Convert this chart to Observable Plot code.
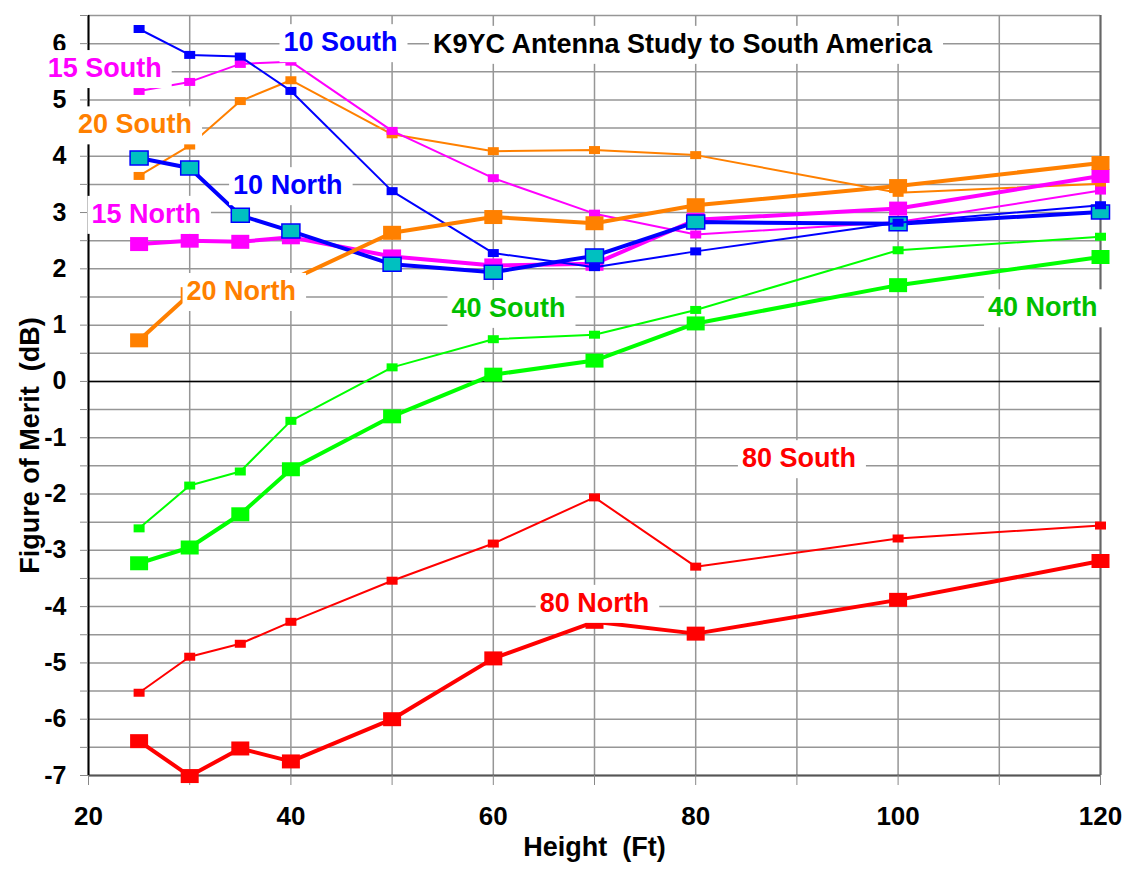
<!DOCTYPE html>
<html>
<head>
<meta charset="utf-8">
<script src="https://cdn.jsdelivr.net/npm/d3@7"></script>
<script src="https://cdn.jsdelivr.net/npm/@observablehq/plot@0.6"></script>
<style>
  html, body { margin: 0; padding: 0; background: #fff; }
  #chart svg { white-space: pre; }
</style>
</head>
<body>
<div id="chart"></div>
<script>
// ---- data ----
const heights = [25, 30, 35, 40, 50, 60, 70, 80, 100, 120];

const s10South = [6.26, 5.80, 5.77, 5.16, 3.38, 2.28, 2.03, 2.31, 2.82, 3.13];
const s10North = [3.97, 3.79, 2.95, 2.67, 2.08, 1.94, 2.23, 2.83, 2.80, 3.01];
const s15South = [5.16, 5.32, 5.64, 5.68, 4.45, 3.61, 2.98, 2.61, 2.83, 3.39];
const s15North = [2.44, 2.50, 2.48, 2.56, 2.22, 2.06, 2.09, 2.87, 3.07, 3.65];
const s20South = [3.65, 4.19, 4.98, 5.35, 4.39, 4.09, 4.11, 4.02, 3.35, 3.51];
const s20North = [0.73, 1.55, 1.72, 1.80, 2.64, 2.92, 2.81, 3.13, 3.47, 3.88];
const s40South = [-2.61, -1.85, -1.60, -0.70, 0.25, 0.75, 0.83, 1.27, 2.33, 2.57];
const s40North = [-3.23, -2.95, -2.36, -1.56, -0.62, 0.12, 0.37, 1.03, 1.71, 2.21];
const s80South = [-5.53, -4.89, -4.66, -4.27, -3.54, -2.88, -2.06, -3.29, -2.79, -2.56];
const s80North = [-6.39, -7.01, -6.52, -6.75, -6.00, -4.92, -4.27, -4.48, -3.88, -3.19];

const xTickLabels = [20, 40, 60, 80, 100, 120];
const xGridLines = [20, 30, 40, 50, 60, 70, 80, 90, 100, 110, 120];
const yTickLabels = [-7, -6, -5, -4, -3, -2, -1, 0, 1, 2, 3, 4, 5, 6];
const yGridLines = [-7, -6.5, -6, -5.5, -5, -4.5, -4, -3.5, -3, -2.5, -2, -1.5, -1, -0.5,
                    0, 0.5, 1, 1.5, 2, 2.5, 3, 3.5, 4, 4.5, 5, 5.5, 6, 6.5];

const labelText = ["10 South", "K9YC Antenna Study to South America", "15 South", "20 South",
                   "10 North", "15 North", "20 North", "40 South", "40 North", "80 South", "80 North"];
const labelX = [44.9, 78.7, 21.6, 24.6, 39.7, 25.7, 35.1, 61.5, 114.3, 90.2, 70.0];
const labelY = [6.02, 5.99, 5.56, 4.56, 3.48, 2.97, 1.60, 1.30, 1.31, -1.37, -3.94];
const labelColor = ["#0000ff", "#000000", "#ff00ff", "#ff8000", "#0000ff", "#ff00ff",
                    "#ff8000", "#00c000", "#00c000", "#ff0000", "#ff0000"];

// ---- series styling (drawing order) ----
const series = [
  {name: "80 North", values: s80North, color: "#ff0000", thick: true},
  {name: "80 South", values: s80South, color: "#ff0000", thick: false},
  {name: "40 North", values: s40North, color: "#00ff00", thick: true},
  {name: "40 South", values: s40South, color: "#00ff00", thick: false},
  {name: "20 South", values: s20South, color: "#ff8000", thick: false},
  {name: "15 South", values: s15South, color: "#ff00ff", thick: false},
  {name: "15 North", values: s15North, color: "#ff00ff", thick: true},
  {name: "10 North", values: s10North, color: "#0000ff", thick: true, markerFill: "#00c0c0"},
  {name: "10 South", values: s10South, color: "#0000ff", thick: false},
  {name: "20 North", values: s20North, color: "#ff8000", thick: true}
];

const rectSymbol = (w, h) => ({draw(ctx) { ctx.rect(-w / 2, -h / 2, w, h); }});
const bigSym = rectSymbol(18, 14);
const smallSym = rectSymbol(11, 8);

const FONT = "'Liberation Sans', Arial, Helvetica, sans-serif";

const marks = [];
// grid
marks.push(Plot.ruleY(yGridLines, {stroke: "#969696", strokeWidth: 1.5}));
marks.push(Plot.ruleX(xGridLines, {stroke: "#969696", strokeWidth: 1.5}));
// frame
marks.push(Plot.ruleY([0], {stroke: "#000", strokeWidth: 1.5}));
marks.push(Plot.ruleY([-7], {stroke: "#555", strokeWidth: 2}));
marks.push(Plot.ruleX([120], {stroke: "#666", strokeWidth: 2}));
marks.push(Plot.ruleX([20], {stroke: "#000", strokeWidth: 2}));

// axes
marks.push(Plot.axisY({
  ticks: yGridLines, tickSize: 8, tickPadding: 14, stroke: "#888",
  tickFormat: d => yTickLabels.includes(d) ? String(d) : "",
  fontSize: 25, fontWeight: "bold", fill: "#000", label: null
}));
marks.push(Plot.axisX({
  ticks: xGridLines, tickSize: 10, tickPadding: 21, stroke: "#888",
  tickFormat: d => xTickLabels.includes(d) ? String(d) : "",
  fontSize: 26, fontWeight: "bold", fill: "#000", label: null
}));

// series
for (const s of series) {
  const rows = heights.map((h, i) => ({h, v: s.values[i]}));
  marks.push(Plot.line(rows, {
    x: "h", y: "v", stroke: s.color, strokeWidth: s.thick ? 4 : 2,
    curve: "linear", strokeLinejoin: "round"
  }));
  marks.push(Plot.dot(rows, {
    x: "h", y: "v", symbol: s.thick ? bigSym : smallSym, r: 5,
    fill: s.markerFill || s.color,
    stroke: s.markerFill ? s.color : "none",
    strokeWidth: s.markerFill ? 1.5 : 0
  }));
}

// in-chart labels
const labels = labelText.map((t, i) => ({t, x: labelX[i], y: labelY[i], c: labelColor[i]}));
marks.push(Plot.text(labels, {
  x: "x", y: "y", text: "t", fill: "c", textAnchor: "middle", lineAnchor: "middle",
  fontSize: 27, fontWeight: "bold"
}));

// axis titles
marks.push(Plot.text(["Height  (Ft)"], {
  frameAnchor: "bottom", dy: 72, text: d => d, fontSize: 27, fontWeight: "bold",
  fill: "#000", lineAnchor: "middle", textAnchor: "middle"
}));
marks.push(Plot.text(["Figure of Merit  (dB)"], {
  frameAnchor: "left", dx: -58, dy: 50, rotate: -90, text: d => d, fontSize: 27,
  fontWeight: "bold", fill: "#000", lineAnchor: "middle", textAnchor: "middle"
}));

const chart = Plot.plot({
  width: 1127,
  height: 877,
  marginLeft: 88,
  marginRight: 27,
  marginTop: 15,
  marginBottom: 102,
  x: {domain: [20, 120]},
  y: {domain: [-7, 6.5]},
  color: {type: "identity"},
  style: {fontFamily: FONT, background: "#fff", overflow: "visible"},
  marks
});

document.getElementById("chart").appendChild(chart);

// white boxes behind in-chart labels
const labelSet = new Set(labelText);
for (const t of chart.querySelectorAll("text")) {
  if (!labelSet.has(t.textContent)) continue;
  const b = t.getBBox();
  const r = document.createElementNS("http://www.w3.org/2000/svg", "rect");
  r.setAttribute("x", b.x - 4);
  r.setAttribute("y", b.y - 3);
  r.setAttribute("width", b.width + 14);
  r.setAttribute("height", b.height + 8);
  r.setAttribute("fill", "#fff");
  const tr = t.getAttribute("transform");
  if (tr) r.setAttribute("transform", tr);
  t.parentNode.insertBefore(r, t);
}
</script>
</body>
</html>
